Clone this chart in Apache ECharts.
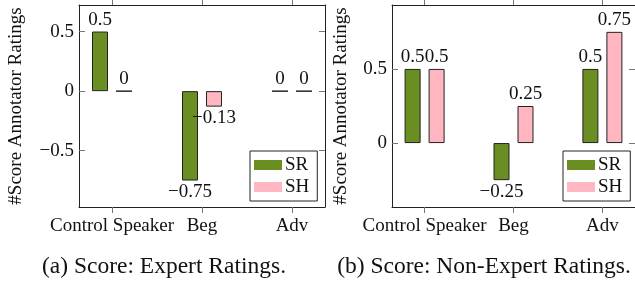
<!DOCTYPE html>
<html><head><meta charset="utf-8">
<script src="https://cdn.jsdelivr.net/npm/echarts@6/dist/echarts.min.js"></script>
<style>html,body{margin:0;padding:0;background:#fff}#c{width:635px;height:284px}</style>
</head><body><div id="c"></div>
<script>
const categories = ['Control Speaker', 'Beg', 'Adv'];
const seriesNames = ['SR', 'SH'];
const expertSR = [0.5, -0.75, 0];
const expertSH = [0, -0.13, 0];
const nonExpertSR = [0.5, -0.25, 0.5];
const nonExpertSH = [0.5, 0.25, 0.75];
const expertYTicks = [-0.5, 0, 0.5];
const nonExpertYTicks = [0, 0.5];
const captions = ['(a) Score: Expert Ratings.', '(b) Score: Non-Expert Ratings.'];
const yAxisTitle = '#Score Annotator Ratings';
const colors = ['#6b8e23', '#ffb6c1'];

const FONT = 'Liberation Serif';
function fmt(v){ return v === 0 ? '0' : String(v).replace('-', '\u2212'); }
const catIdx = categories.map((c, i) => i);

const panels = [
  {left: 79, ymin: -0.972, ymax: 0.7227, ticks: expertYTicks, data: [expertSR, expertSH], nameGap: 53, legendLeft: 250, capX: 164},
  {left: 392, ymin: -0.431, ymax: 0.931, ticks: nonExpertYTicks, data: [nonExpertSR, nonExpertSH], nameGap: 41, legendLeft: 563, capX: 484}
];

const grid = [], xAxis = [], yAxis = [], series = [], legend = [], graphic = [];
const lineCol = '#222', tickCol = '#777';
panels.forEach((p, k) => {
  grid.push({left: p.left, top: 5, width: 246, height: 202});
  const xBase = {type: 'value', gridIndex: k, min: -0.3667, max: 2.3667, splitLine: {show: false},
    axisLine: {show: true, onZero: false, lineStyle: {color: lineCol, width: 1}}};
  xAxis.push(Object.assign({}, xBase, {position: 'bottom',
    axisTick: {show: true, inside: false, length: 6, customValues: catIdx, lineStyle: {color: tickCol}},
    axisLabel: {show: true, customValues: catIdx, formatter: v => categories[Math.round(v)],
      fontFamily: FONT, fontSize: 19, color: '#111', margin: 10}}));
  xAxis.push(Object.assign({}, xBase, {position: 'top',
    axisTick: {show: true, inside: false, length: 5, customValues: catIdx, lineStyle: {color: tickCol}},
    axisLabel: {show: false}}));
  const yBase = {type: 'value', gridIndex: k, min: p.ymin, max: p.ymax, splitLine: {show: false},
    axisLine: {show: true, onZero: false, lineStyle: {color: lineCol, width: 1}}};
  yAxis.push(Object.assign({}, yBase, {position: 'left',
    axisTick: {show: true, inside: true, length: 6, customValues: p.ticks, lineStyle: {color: tickCol}},
    axisLabel: {show: true, customValues: p.ticks, formatter: fmt, fontFamily: FONT, fontSize: 19, color: '#111', margin: 5},
    name: yAxisTitle, nameLocation: 'middle', nameGap: p.nameGap,
    nameTextStyle: {fontFamily: FONT, fontSize: 19, color: '#111'}}));
  yAxis.push(Object.assign({}, yBase, {position: 'right',
    axisTick: {show: true, inside: true, length: 6, customValues: p.ticks, lineStyle: {color: tickCol}},
    axisLabel: {show: false}}));
  p.data.forEach((vals, s) => {
    series.push({
      type: 'bar', name: seriesNames[s], xAxisIndex: 2 * k, yAxisIndex: 2 * k,
      barWidth: 16, barGap: '50%',
      itemStyle: {color: colors[s], borderColor: '#222', borderWidth: 1},
      label: {show: true, formatter: q => fmt(q.value[1]), fontFamily: FONT, fontSize: 19, color: '#111', distance: 2},
      data: vals.map((v, i) => ({value: [catIdx[i], v], label: {position: v < 0 ? 'bottom' : 'top'}}))
    });
  });
  legend.push({
    data: seriesNames, left: p.legendLeft, top: 151, orient: 'vertical', icon: 'rect',
    itemWidth: 28, itemHeight: 10, itemGap: 0, padding: [3, 8, 3, 4],
    borderColor: '#222', borderWidth: 1, backgroundColor: '#fff',
    itemStyle: {borderWidth: 0},
    textStyle: {fontFamily: FONT, fontSize: 19, color: '#111', lineHeight: 22, padding: [0, 0, 0, -2]}
  });
  graphic.push({type: 'text', x: p.capX, y: 267,
    style: {text: captions[k], fontFamily: FONT, fontSize: 23.5, fill: '#111', textAlign: 'center', textVerticalAlign: 'middle'}});
});

const chart = echarts.init(document.getElementById('c'), null, {renderer: 'canvas'});
chart.setOption({animation: false, grid, xAxis, yAxis, series, legend, graphic});
</script></body></html>
